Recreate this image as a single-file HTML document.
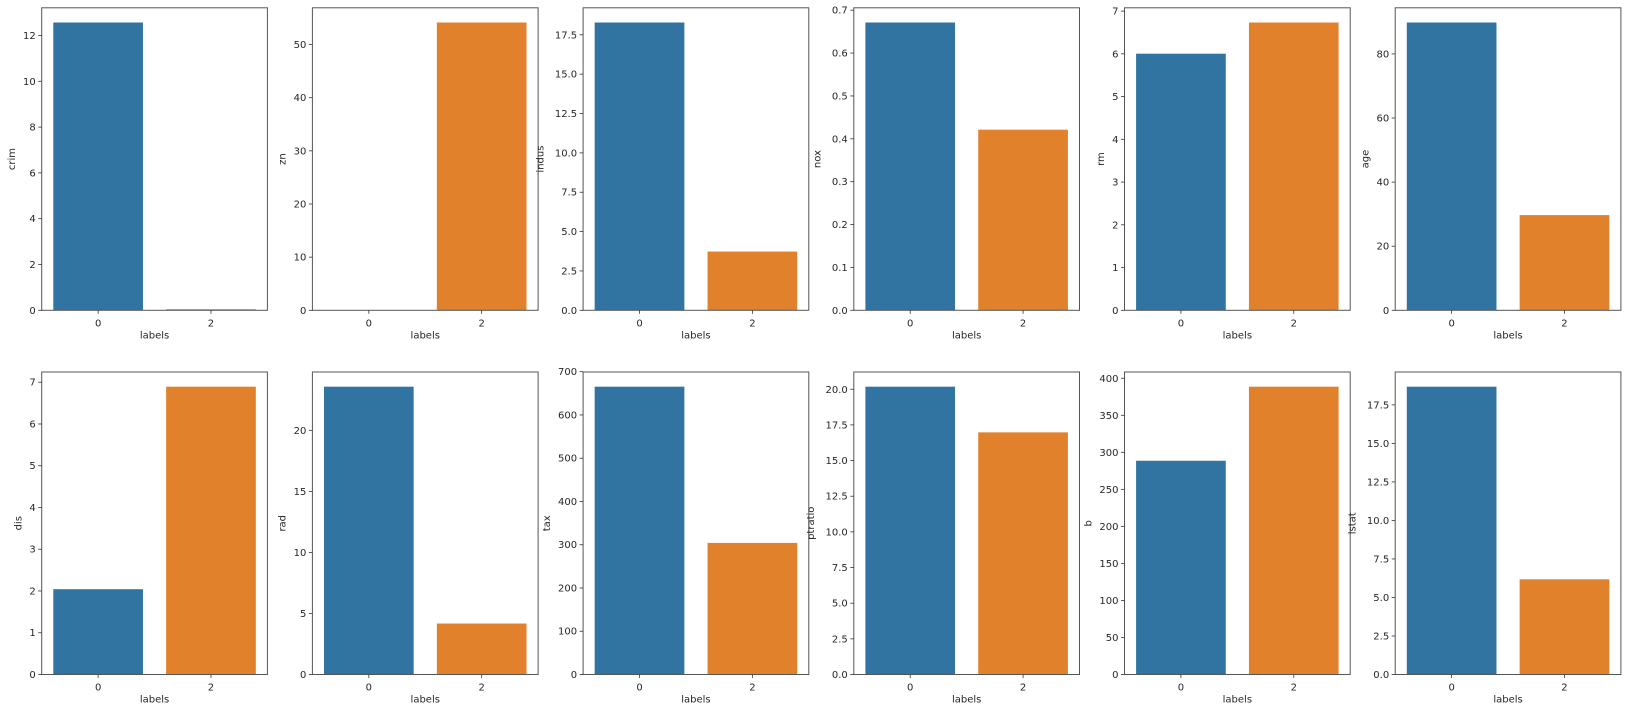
<!DOCTYPE html>
<html><head><meta charset="utf-8">
<style>
html,body{margin:0;padding:0;background:#fff;}
svg{display:block;}
text{font-family:"DejaVu Sans","Liberation Sans",sans-serif;font-size:10px;fill:#262626;}
</style></head>
<body>
<svg id="fig" width="1632" height="717" viewBox="0 0 1632 717"></svg>
<script>
const features = ["crim","zn","indus","nox","rm","age","dis","rad","tax","ptratio","b","lstat"];
const categories = ["0","2"];
const valuesLabel0 = [12.58, 0, 18.3, 0.672, 6.01, 89.9, 2.05, 23.6, 666, 20.2, 289, 18.7];
const valuesLabel2 = [0.06, 54.2, 3.75, 0.422, 6.74, 29.8, 6.9, 4.2, 305, 17.0, 389, 6.2];
const tickLabels = [
  ["0","2","4","6","8","10","12"],
  ["0","10","20","30","40","50"],
  ["0.0","2.5","5.0","7.5","10.0","12.5","15.0","17.5"],
  ["0.0","0.1","0.2","0.3","0.4","0.5","0.6","0.7"],
  ["0","1","2","3","4","5","6","7"],
  ["0","20","40","60","80"],
  ["0","1","2","3","4","5","6","7"],
  ["0","5","10","15","20"],
  ["0","100","200","300","400","500","600","700"],
  ["0.0","2.5","5.0","7.5","10.0","12.5","15.0","17.5","20.0"],
  ["0","50","100","150","200","250","300","350","400"],
  ["0.0","2.5","5.0","7.5","10.0","12.5","15.0","17.5"]
];
const colors = ["#3274a1","#e1812c"];
const NS = "http://www.w3.org/2000/svg";
const svg = document.getElementById("fig");
function mk(tag, attrs, parent){
  const e = document.createElementNS(NS, tag);
  for (const k in attrs) e.setAttribute(k, attrs[k]);
  (parent||svg).appendChild(e);
  return e;
}
const W = 225.7, H = 302.5;
const lefts = [41.7, 312.4, 583.1, 853.8, 1124.5, 1395.2];
const tops = [7.8, 372.0];
features.forEach((f, i) => {
  const L = lefts[i % 6], T = tops[Math.floor(i / 6)], B = T + H;
  const g = mk("g", {});
  
  
  const vals = [valuesLabel0[i], valuesLabel2[i]];
  const ymax = Math.max(...vals) * 1.05;
  const y = v => B - v / ymax * H;
  const x = c => L + (c + 0.5) / 2 * W;
  vals.forEach((v, c) => {
    const r = mk("rect", {x: x(c) - 0.4 / 2 * W, y: y(v), width: 0.8 / 2 * W, height: Math.max(0, B - y(v)), fill: colors[c], stroke: "#ffffff", "stroke-width": 0.6}, g);
    
    
  });
  const frame = mk("rect", {x: L, y: T, width: W, height: H, fill: "none", stroke: "#555", "stroke-width": 1}, g);
  
  
  tickLabels[i].forEach(t => {
    const v = parseFloat(t), yy = y(v);
    mk("line", {x1: L - 3.5, x2: L, y1: yy, y2: yy, stroke: "#333", "stroke-width": 0.8}, g);
    const tx = mk("text", {x: L - 6, y: yy + 3.5, "text-anchor": "end"}, g);
    tx.textContent = t;
    
    
  });
  categories.forEach((c, ci) => {
    const xx = x(ci);
    mk("line", {x1: xx, x2: xx, y1: B, y2: B + 3.5, stroke: "#333", "stroke-width": 0.8}, g);
    const tx = mk("text", {x: xx, y: B + 16, "text-anchor": "middle"}, g);
    tx.textContent = c;
    
    
  });
  const xl = mk("text", {x: L + W / 2, y: B + 28, "text-anchor": "middle"}, g);
  xl.textContent = "labels";
  
  
  const maxLen = Math.max(...tickLabels[i].map(s => s.length));
  const lx = L - 10 - maxLen * 6.4 - 4;
  const yl = mk("text", {x: lx, y: T + H / 2, "text-anchor": "middle", transform: `rotate(-90 ${lx} ${T + H / 2})`}, g);
  yl.textContent = f;
  
  
});
</script>
</body></html>
